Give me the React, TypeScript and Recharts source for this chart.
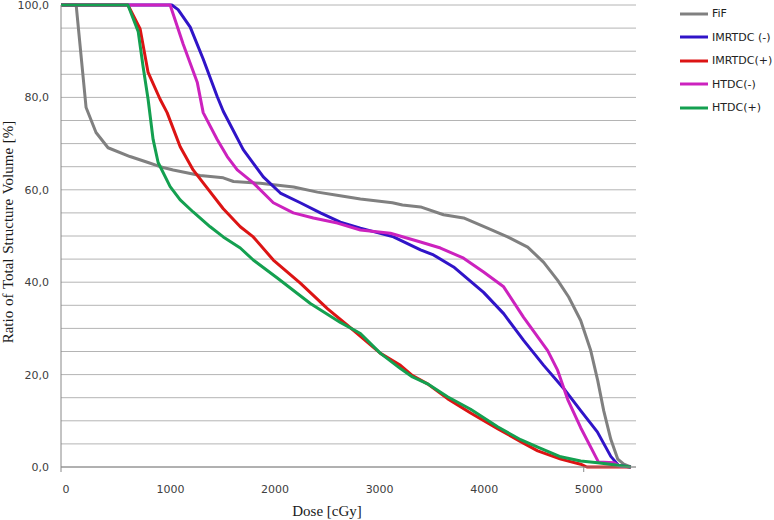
import React from 'react';
import { LineChart, Line, XAxis, YAxis, CartesianGrid, Legend } from 'recharts';

type P = { d: number; v: number };
const mk = (a: number[][]): P[] => a.map(([d, v]) => ({ d, v }));

const fif = mk([[0,100],[145,100],[240,77.8],[335,72.4],[450,69.1],[660,67.2],[833,65.9],[948,65],[1073,64.3],[1331,63.1],[1552,62.6],[1650,61.8],[1906,61.4],[2225,60.6],[2453,59.5],[2640,58.8],[2864,58.0],[3170,57.2],[3266,56.7],[3439,56.3],[3659,54.6],[3851,53.9],[4080,51.7],[4272,49.8],[4464,47.6],[4617,44.3],[4751,40.4],[4856,36.8],[4971,31.7],[5067,25.2],[5134,18.7],[5191,12.2],[5259,6],[5326,1.7],[5383,0.6],[5450,0]]);

const imrtMinus = mk([[0,100],[1060,100],[1120,99],[1236,95.2],[1360,88.3],[1494,80.2],[1552,77],[1743,68.7],[1935,62.8],[2098,59.3],[2289,57.2],[2481,55],[2672,53],[2864,51.7],[3180,49.8],[3439,47],[3563,45.9],[3755,43.3],[4042,37.8],[4234,33.2],[4425,27.4],[4617,22],[4808,17],[4971,12.2],[5130,7.6],[5259,2.3],[5335,0.3],[5450,0]]);

const imrtPlus = mk([[0,100],[640,100],[757,94.8],[833,85.4],[948,79.6],[1015,76.7],[1140,69.3],[1264,64.3],[1360,61.5],[1552,55.9],[1715,52],[1839,49.8],[2031,44.8],[2289,39.8],[2548,34.3],[2797,29.6],[3056,24.6],[3247,22],[3362,19.8],[3506,18],[3697,14.8],[3918,11.7],[4176,8.3],[4397,5.5],[4560,3.5],[4780,1.7],[4971,0.6],[5030,0],[5450,0]]);

const htMinus = mk([[0,100],[1044,100],[1169,91.5],[1303,83.3],[1360,76.7],[1494,70.9],[1590,67.2],[1686,64.3],[1839,61.5],[2031,57.2],[2222,55],[2414,53.9],[2644,52.8],[2864,51.3],[3151,50.6],[3439,48.7],[3630,47.4],[3851,45.2],[4042,42.2],[4234,39],[4425,32.4],[4655,25.2],[4751,20.9],[4847,14.6],[4971,8.5],[5140,1.1],[5290,0.9],[5340,0.2],[5450,0]]);

const htPlus = mk([[0,100],[640,100],[738,94.3],[785,86.7],[833,79.6],[881,70.9],[929,65.9],[1044,60.7],[1140,57.8],[1264,55.2],[1427,52],[1552,49.8],[1715,47.4],[1839,44.8],[2069,40.9],[2385,35.4],[2672,31.3],[2864,28.9],[3056,24.6],[3247,21.3],[3362,19.5],[3506,18],[3697,15.2],[3918,12.5],[4176,8.7],[4397,5.9],[4560,4.3],[4780,2.2],[4971,1.3],[5134,0.9],[5287,0.5],[5450,0]]);

const xTicks = [0, 1000, 2000, 3000, 4000, 5000];
const yTicks = [0,5,10,15,20,25,30,35,40,45,50,55,60,65,70,75,80,85,90,95,100];
const yLabelTicks = [0, 20, 40, 60, 80, 100];

const series = [
  { name: 'FiF', data: fif, color: '#808080' },
  { name: 'IMRTDC (-)', data: imrtMinus, color: '#3014C8' },
  { name: 'IMRTDC(+)', data: imrtPlus, color: '#DC1414' },
  { name: 'HTDC(-)', data: htMinus, color: '#CC22BE' },
  { name: 'HTDC(+)', data: htPlus, color: '#14A050' },
];

const tickFont = { fontFamily: 'DejaVu Sans', fontSize: 11, fill: '#404040' };

const XTick = (props: any) => {
  const { x, y, payload } = props;
  const v = payload.value;
  return (
    <g>
      {(v === 0 || v === 5000) && (
        <line x1={x} x2={x} y1={y - 18} y2={y - 13} stroke="#888" strokeWidth={1} />
      )}
      <text x={x + 5} y={y} dy="0.71em" textAnchor="middle" {...tickFont}>{v}</text>
    </g>
  );
};

const LegendContent = () => (
  <div style={{ fontFamily: 'DejaVu Sans', fontSize: 11, color: '#222' }}>
    {series.map((s) => (
      <div key={s.name} style={{ height: 23.5, display: 'flex', alignItems: 'center' }}>
        <svg width={28} height={6} style={{ display: 'block' }}>
          <line x1={0} x2={28} y1={3} y2={3} stroke={s.color} strokeWidth={3} />
        </svg>
        <span style={{ marginLeft: 4, whiteSpace: 'nowrap' }}>{s.name}</span>
      </div>
    ))}
  </div>
);

const YLabel = () => (
  <text x={13} y={232} transform="rotate(-90 13 232)" textAnchor="middle"
    style={{ fontFamily: 'Liberation Serif', fontSize: 15, fill: '#1a1a1a', wordSpacing: 1 }}>
    Ratio of Total Structure Volume [%]
  </text>
);

const XLabel = () => (
  <text x={327} y={516} textAnchor="middle"
    style={{ fontFamily: 'Liberation Serif', fontSize: 15, fill: '#1a1a1a' }}>
    Dose [cGy]
  </text>
);

export default function App() {
  return (
    <div style={{ position: 'absolute', left: 0, top: 0, width: 774, height: 520, background: '#fff' }}>
      <LineChart width={774} height={520} margin={{ top: 5, right: 138, bottom: 0, left: 6 }}>
        <CartesianGrid vertical={false} stroke="#b4b4b4" strokeWidth={1} />
        <XAxis
          dataKey="d"
          type="number"
          domain={[0, 5500]}
          ticks={xTicks}
          height={53}
          tickSize={5}
          tickMargin={13}
          tickLine={false}
          axisLine={{ stroke: '#888' }}
          tick={<XTick />}
          label={<XLabel />}
        />
        <YAxis
          type="number"
          domain={[0, 100]}
          ticks={yTicks}
          interval={0}
          width={55}
          tickSize={6}
          tickMargin={6}
          tickLine={false}
          axisLine={{ stroke: '#888' }}
          tick={tickFont}
          tickFormatter={(v: number) => (yLabelTicks.includes(v) ? v.toFixed(1).replace('.', ',') : '')}
          label={<YLabel />}
        />
        <Legend
          layout="vertical"
          align="center"
          verticalAlign="middle"
          content={<LegendContent />}
          wrapperStyle={{ left: 680, top: 2, width: 94, height: 130 }}
        />
        {series.map((s) => (
          <Line
            key={s.name}
            data={s.data}
            dataKey="v"
            name={s.name}
            stroke={s.color}
            strokeWidth={3}
            dot={false}
            type="linear"
            strokeLinejoin="round"
            isAnimationActive={false}
          />
        ))}
      </LineChart>
    </div>
  );
}
